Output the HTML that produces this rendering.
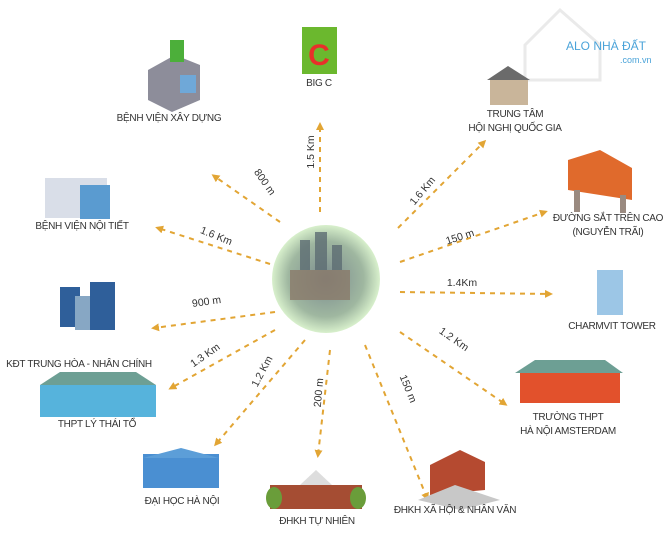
<!DOCTYPE html>
<html><head><meta charset="utf-8"><style>
html,body{margin:0;padding:0;background:#fff;width:670px;height:537px;overflow:hidden}
svg text{font-family:"Liberation Sans",sans-serif;fill:#333}
</style></head><body>
<svg width="670" height="537" viewBox="0 0 670 537" xmlns="http://www.w3.org/2000/svg">
<defs>
<marker id="a" markerWidth="8" markerHeight="8" refX="5" refY="4" orient="auto" markerUnits="userSpaceOnUse"><path d="M0,0 L8,4 L0,8 Z" fill="#e2a534"/></marker>
<radialGradient id="g" cx="50%" cy="50%" r="50%"><stop offset="0" stop-color="#7a8a8e"/><stop offset="0.7" stop-color="#9fb7a0"/><stop offset="1" stop-color="#d8f0cc"/></radialGradient>
</defs>
<g opacity="0.25"><path d="M525,45 L560,10 L600,45 L600,80 L525,80 Z" fill="none" stroke="#aaa" stroke-width="3"/></g>
<text x="566" y="50" font-size="12" style="fill:#4aa3d9">ALO NHÀ ĐẤT</text>
<text x="620" y="63" font-size="9" style="fill:#4aa3d9">.com.vn</text>
<circle cx="326" cy="279" r="54" fill="url(#g)"/>
<g fill="#5d6d73" opacity="0.8"><rect x="300" y="240" width="10" height="45"/><rect x="315" y="232" width="12" height="50"/><rect x="332" y="245" width="10" height="40"/><rect x="290" y="270" width="60" height="30" fill="#8a7a6a"/></g>
<g stroke="#e2a534" stroke-width="2" stroke-dasharray="5,5" fill="none" marker-end="url(#a)">
<line x1="320" y1="212" x2="320" y2="125"/>
<line x1="280" y1="222" x2="214" y2="176"/>
<line x1="270" y1="264" x2="158" y2="228"/>
<line x1="275" y1="312" x2="154" y2="328"/>
<line x1="275" y1="330" x2="171" y2="388"/>
<line x1="305" y1="340" x2="216" y2="444"/>
<line x1="330" y1="350" x2="318" y2="455"/>
<line x1="365" y1="345" x2="427" y2="498"/>
<line x1="400" y1="332" x2="505" y2="404"/>
<line x1="400" y1="292" x2="550" y2="294"/>
<line x1="400" y1="262" x2="545" y2="212"/>
<line x1="398" y1="228" x2="484" y2="142"/>
</g>
<g font-size="10.5">
<text transform="translate(314,152) rotate(-90)" text-anchor="middle">1.5 Km</text>
<text transform="translate(262,184) rotate(55)" text-anchor="middle">800 m</text>
<text transform="translate(215,239) rotate(22)" text-anchor="middle">1.6 Km</text>
<text transform="translate(207,305) rotate(-8)" text-anchor="middle">900 m</text>
<text transform="translate(207,358) rotate(-35)" text-anchor="middle">1.3 Km</text>
<text transform="translate(265,373) rotate(-62)" text-anchor="middle">1.2 Km</text>
<text transform="translate(322,393) rotate(-85)" text-anchor="middle">200 m</text>
<text transform="translate(405,390) rotate(68)" text-anchor="middle">150 m</text>
<text transform="translate(452,342) rotate(35)" text-anchor="middle">1.2 Km</text>
<text transform="translate(462,286)" text-anchor="middle">1.4Km</text>
<text transform="translate(461,240) rotate(-18)" text-anchor="middle">150 m</text>
<text transform="translate(425,193) rotate(-50)" text-anchor="middle">1.6 Km</text>
</g>
<rect x="302" y="27" width="35" height="47" fill="#6bb82e"/><text x="319" y="65" font-size="30" font-weight="bold" text-anchor="middle" style="fill:#e8302a">C</text>
<path d="M148,70 L175,55 L200,65 L200,100 L172,112 L148,100 Z" fill="#8d8d9a"/><rect x="170" y="40" width="14" height="22" fill="#4caf3a"/><rect x="180" y="75" width="16" height="18" fill="#6fa8d8"/>
<path d="M487,80 L508,66 L530,80 Z" fill="#6b6b6b"/><rect x="490" y="80" width="38" height="25" fill="#c9b59a"/>
<path d="M568,160 L600,150 L632,168 L632,200 L568,190 Z" fill="#e06a2c"/><rect x="574" y="190" width="6" height="22" fill="#9a8a80"/><rect x="620" y="195" width="6" height="18" fill="#9a8a80"/>
<rect x="597" y="270" width="26" height="45" fill="#9cc6e6"/>
<rect x="45" y="178" width="62" height="40" fill="#d9dee8"/><rect x="80" y="185" width="30" height="34" fill="#5a9bd0"/>
<rect x="60" y="287" width="20" height="40" fill="#2f5f9a"/><rect x="75" y="296" width="20" height="34" fill="#87a7c4"/><rect x="90" y="282" width="25" height="48" fill="#2f5f9a"/>
<rect x="40" y="385" width="116" height="32" fill="#56b3dc"/><path d="M40,385 L60,372 L136,372 L156,385 Z" fill="#6d9f94"/>
<rect x="520" y="373" width="100" height="30" fill="#e2512c"/><path d="M515,373 L535,360 L605,360 L623,373 Z" fill="#6d9f94"/>
<rect x="143" y="454" width="76" height="34" fill="#4a8fd2"/><path d="M143,458 L181,448 L219,458 Z" fill="#5c9ed8"/>
<rect x="270" y="485" width="92" height="24" fill="#a54d33"/><path d="M300,485 L316,470 L332,485 Z" fill="#ddd"/><ellipse cx="274" cy="498" rx="8" ry="11" fill="#6a9d3a"/><ellipse cx="358" cy="498" rx="8" ry="11" fill="#6a9d3a"/>
<path d="M430,465 L460,450 L485,462 L485,490 L430,495 Z" fill="#b54a30"/><path d="M418,500 L455,485 L500,500 L460,510 Z" fill="#c8c8c8"/>
<g font-size="10" text-anchor="middle" letter-spacing="-0.3">
<text x="319" y="86">BIG C</text>
<text x="169" y="121">BỆNH VIỆN XÂY DỰNG</text>
<text x="515" y="117">TRUNG TÂM</text>
<text x="515" y="131">HỘI NGHỊ QUỐC GIA</text>
<text x="82" y="229">BỆNH VIỆN NỘI TIẾT</text>
<text x="608" y="221">ĐƯỜNG SẮT TRÊN CAO</text>
<text x="608" y="235">(NGUYỄN TRÃI)</text>
<text x="612" y="329">CHARMVIT TOWER</text>
<text x="79" y="367">KĐT TRUNG HÒA - NHÂN CHÍNH</text>
<text x="97" y="427">THPT LÝ THÁI TỔ</text>
<text x="568" y="420">TRƯỜNG THPT</text>
<text x="568" y="434">HÀ NỘI AMSTERDAM</text>
<text x="182" y="504">ĐẠI HỌC HÀ NỘI</text>
<text x="317" y="524">ĐHKH TỰ NHIÊN</text>
<text x="455" y="513">ĐHKH XÃ HỘI &amp; NHÂN VĂN</text>
</g>
</svg>
</body></html>
